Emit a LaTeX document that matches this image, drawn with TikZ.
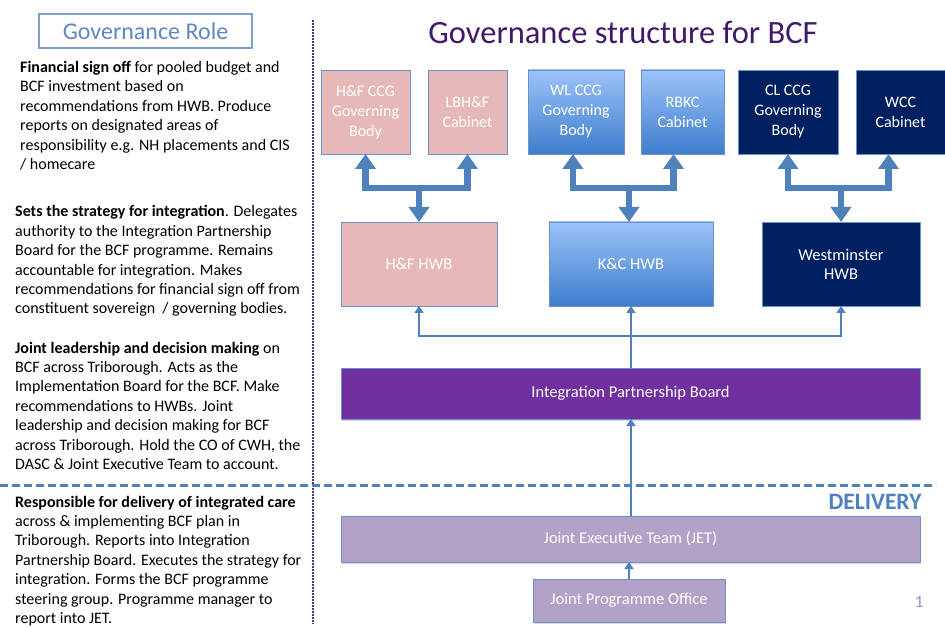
\documentclass[tikz,border=0pt]{standalone}
\usepackage{fontspec}
\setmainfont{Carlito}
\usetikzlibrary{arrows.meta}
\usetikzlibrary{shadows}
\definecolor{pinkfill}{HTML}{E6B9B8}
\definecolor{bluetop}{HTML}{9DC3FA}
\definecolor{bluebottom}{HTML}{3E7DCB}
\definecolor{navyfill}{HTML}{002060}
\definecolor{ipbpurple}{HTML}{7030A0}
\definecolor{jetlilac}{HTML}{B2A2C7}
\definecolor{boxedge}{HTML}{6B93C8}
\definecolor{linkblue}{HTML}{4F81BD}
\definecolor{titlepurple}{HTML}{41186A}
\definecolor{roleblue}{HTML}{5F87C2}
\definecolor{dotpurple}{HTML}{4E3379}
\definecolor{pagelilac}{HTML}{9A8CC0}
\tikzset{
  box/.style={draw=boxedge, line width=0.8pt, inner sep=0pt, outer sep=0pt,
    align=center, text=white, minimum height=84pt,
    font=\fontsize{16}{20}\selectfont},
  pinkbox/.style={box, fill=pinkfill},
  bluebox/.style={box, top color=bluetop, bottom color=bluebottom},
  navybox/.style={box, fill=navyfill},
  lilacbox/.style={box, fill=jetlilac, font=\fontsize{16.5}{18}\selectfont,
    drop shadow={shadow xshift=1pt, shadow yshift=-2pt, opacity=0.3}},
  bigarrow/.style={draw=linkblue, line width=6.5pt, -{Triangle[width=20pt,length=15pt]}},
  thinarrow/.style={draw=linkblue, line width=2.5pt, -{Triangle[width=9pt,length=7pt]}},
  roletext/.style={anchor=base west, align=left, inner sep=0pt,
    font=\fontsize{16}{19.4}\selectfont},
}

\begin{document}
\begin{tikzpicture}[x=1pt, y=-1pt]
  \useasboundingbox[fill=white] (0,0) rectangle (945,628);

  % left column
  \node[draw=roleblue!80, line width=1.2pt, fill=white, minimum width=213pt, minimum height=34pt,
    inner sep=0pt, text=roleblue, font=\fontsize{24}{26}\selectfont] (role) at (145.5,31) {Governance Role};
  % base anchor = last line
  \node[roletext] (finance) at (20,169.5) {\textbf{Financial sign off} for pooled budget and\\
    BCF investment based on\\
    recommendations from HWB. Produce\\
    reports on designated areas of\\
    responsibility e.g. NH placements and CIS\\
    / homecare};
  \node[roletext] (strategy) at (15,314) {\textbf{Sets the strategy for integration}. Delegates\\
    authority to the Integration Partnership\\
    Board for the BCF programme. Remains\\
    accountable for integration. Makes\\
    recommendations for financial sign off from\\
    constituent sovereign \ / governing bodies.};
  \node[roletext] (leadership) at (15,469.4) {\textbf{Joint leadership and decision making} on\\
    BCF across Triborough. Acts as the\\
    Implementation Board for the BCF. Make\\
    recommendations to HWBs. Joint\\
    leadership and decision making for BCF\\
    across Triborough. Hold the CO of CWH, the\\
    DASC \& Joint Executive Team to account.};
  \node[roletext] (delivery) at (15,623.5) {\textbf{Responsible for delivery of integrated care}\\
    across \& implementing BCF plan in\\
    Triborough. Reports into Integration\\
    Partnership Board. Executes the strategy for\\
    integration. Forms the BCF programme\\
    steering group. Programme manager to\\
    report into JET.};

  % dividers
  \draw[dotpurple, line width=2.5pt, dash pattern=on 1.6pt off 1.4pt] (313,20) -- (313,624);
  \draw[linkblue, line width=3pt, dash pattern=on 8pt off 4pt] (0,485) -- (936,485);

  \node[anchor=base, text=titlepurple, font=\fontsize{32.5}{34}\selectfont] (title) at (623,44) {Governance structure for BCF};
  \node[anchor=base east, text=linkblue, font=\bfseries\fontsize{23.5}{25}\selectfont] (deliv) at (925,509) {DELIVERY};
  \node[anchor=base east, text=pagelilac, font=\fontsize{17}{18}\selectfont] (page) at (927,607) {1};

  % sovereign bodies
  \node[pinkbox, minimum width=89pt] (hfccg) at (365.5,112) {H\&F CCG\\Governing\\Body};
  \node[pinkbox, minimum width=79pt] (lbhf) at (467.5,112) {LBH\&F\\Cabinet};
  \node[bluebox, minimum width=96pt] (wlccg) at (576,112) {WL CCG\\Governing\\Body};
  \node[bluebox, minimum width=83pt] (rbkc) at (682.5,112) {RBKC\\Cabinet};
  \node[navybox, minimum width=100pt] (clccg) at (788,112) {CL CCG\\Governing\\Body};
  \node[navybox, minimum width=89pt] (wcc) at (900.5,112) {WCC\\Cabinet};

  % health and wellbeing boards
  \node[pinkbox, minimum width=156pt, font=\fontsize{16.5}{19}\selectfont] (hfhwb) at (419,264) {H\&F HWB};
  \node[bluebox, minimum width=164pt, font=\fontsize{16.5}{19}\selectfont] (kchwb) at (631,264) {K\&C HWB};
  \node[navybox, minimum width=158pt, font=\fontsize{16.5}{19}\selectfont] (wmhwb) at (841,264) {Westminster\\HWB};

  \node[box, fill=ipbpurple, minimum width=579pt, minimum height=51pt, font=\fontsize{16.5}{18}\selectfont,
    drop shadow={shadow xshift=1pt, shadow yshift=-2pt, opacity=0.3}] (ipb) at (630.5,393.5) {Integration Partnership Board};
  \node[lilacbox, minimum width=579pt, minimum height=46pt] (jet) at (630.5,539) {Joint Executive Team (JET)};
  \node[lilacbox, minimum width=192pt, minimum height=43pt] (jpo) at (629,600.5) {Joint Programme Office};

  % thick brackets
  \coordinate (jhf) at (419,188);
  \coordinate (jkc) at (629,188);
  \coordinate (jwm) at (841,188);
  \draw[bigarrow] (jhf) -| (hfccg.south);
  \draw[bigarrow] (jhf) -| (lbhf.south);
  \draw[bigarrow] (jhf) -- (jhf |- hfhwb.north);
  \draw[bigarrow] (jkc) -| ([xshift=-3pt]wlccg.south);
  \draw[bigarrow] (jkc) -| ([xshift=-9pt]rbkc.south);
  \draw[bigarrow] (jkc) -- (jkc |- kchwb.north);
  \draw[bigarrow] (jwm) -| (clccg.south);
  \draw[bigarrow] (jwm) -| ([xshift=-12pt]wcc.south);
  \draw[bigarrow] (jwm) -- (jwm |- wmhwb.north);

  % thin links
  \coordinate (jhwb) at (631,336);
  \draw[linkblue, line width=2.5pt] (ipb.north -| jhwb) -- (jhwb);
  \draw[thinarrow] (jhwb) -- (kchwb.south -| jhwb);
  \draw[thinarrow] (jhwb) -| (hfhwb.south);
  \draw[thinarrow] (jhwb) -| (wmhwb.south);
  \draw[thinarrow] (jet.north -| jhwb) -- (ipb.south -| jhwb);
  \draw[thinarrow] (jpo.north) -- (jpo.north |- jet.south);
\end{tikzpicture}
\end{document}
